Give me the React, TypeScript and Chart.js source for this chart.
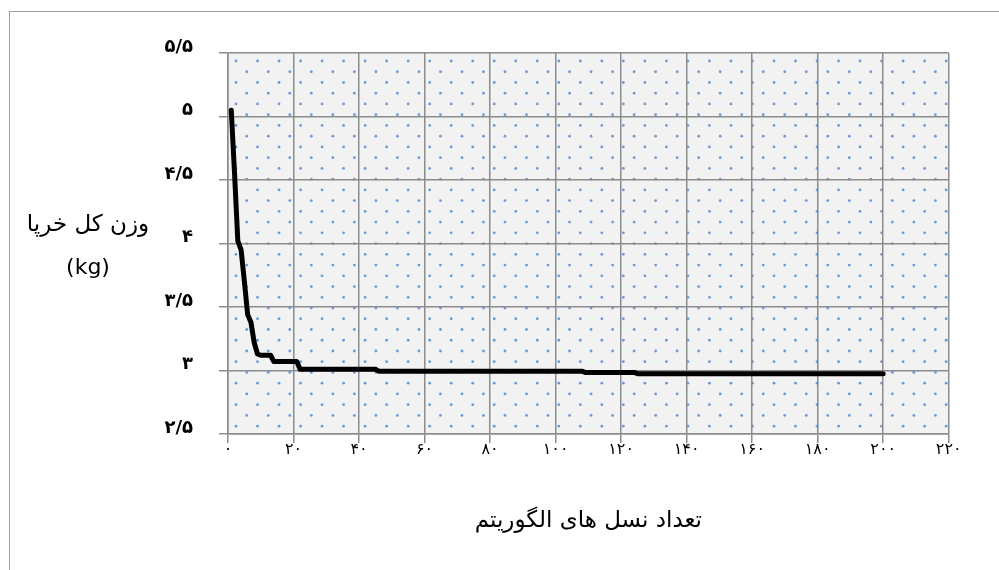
import React, { useEffect, useRef } from 'react';
import { Chart, registerables } from 'chart.js';

Chart.register(...registerables);

// Generation number (x) and total truss weight in kg (y)
const generations = [1, 2, 3, 4, 5, 6, 7, 8, 9, 10, 13, 14, 21, 22, 45, 46, 108, 109, 124, 125, 200];
const totalWeight = [5.05, 4.55, 4.02, 3.95, 3.7, 3.44, 3.38, 3.22, 3.13, 3.12, 3.12, 3.07, 3.07, 3.01, 3.01, 2.995, 2.995, 2.985, 2.985, 2.975, 2.975];

const xTickValues = [0, 20, 40, 60, 80, 100, 120, 140, 160, 180, 200, 220];
const xTickLabels = ['۰', '۲۰', '۴۰', '۶۰', '۸۰', '۱۰۰', '۱۲۰', '۱۴۰', '۱۶۰', '۱۸۰', '۲۰۰', '۲۲۰'];
const yTickValues = [2.5, 3, 3.5, 4, 4.5, 5, 5.5];
const yTickLabels = ['۲/۵', '۳', '۳/۵', '۴', '۴/۵', '۵', '۵/۵'];

const xTitle = 'تعداد نسل های الگوریتم';
const yTitleLines = ['وزن کل خرپا', '(kg)'];

const FONT = "'DejaVu Sans', 'Noto Sans', sans-serif";

const decorPlugin = {
  id: 'decor',
  beforeDraw(chart: any) {
    const { ctx, chartArea: a } = chart;
    ctx.save();
    ctx.fillStyle = '#f2f2f2';
    ctx.fillRect(a.left, a.top, a.right - a.left, a.bottom - a.top);
    ctx.fillStyle = '#6b9ad6';
    const dx = 21.52;
    const dy = 10.74;
    let row = 0;
    for (let y = a.top + 8; y < a.bottom; y += dy, row++) {
      for (let x = a.left + 8 + (row % 2 ? dx / 2 : 0); x < a.right; x += dx) {
        ctx.beginPath();
        ctx.arc(x, y, 1.4, 0, Math.PI * 2);
        ctx.fill();
      }
    }
    ctx.restore();
  },
  afterDraw(chart: any) {
    const { ctx, chartArea: a } = chart;
    ctx.save();
    ctx.fillStyle = '#000';
    ctx.textAlign = 'center';
    ctx.textBaseline = 'middle';
    ctx.font = `23px ${FONT}`;
    ctx.fillText(xTitle, (a.left + a.right) / 2, 521);
    ctx.fillText(yTitleLines[0], 88, 225);
    ctx.font = `22px ${FONT}`;
    ctx.fillText(yTitleLines[1], 88, 268);
    ctx.restore();
  },
};

export default function App() {
  const ref = useRef<HTMLCanvasElement>(null);
  useEffect(() => {
    if (!ref.current) return;
    const chart = new Chart(ref.current, {
      type: 'line',
      data: {
        datasets: [
          {
            data: generations.map((g, i) => ({ x: g, y: totalWeight[i] })),
            borderColor: '#000',
            borderWidth: 5,
            pointRadius: 0,
            tension: 0,
            borderJoinStyle: 'round',
            borderCapStyle: 'round',
            fill: false,
          },
        ],
      },
      options: {
        responsive: false,
        animation: false,
        layout: { padding: { top: 53, right: 50.3, left: 0, bottom: 0 } },
        plugins: { legend: { display: false }, tooltip: { enabled: false } },
        scales: {
          x: {
            type: 'linear',
            min: 0,
            max: 220,
            afterBuildTicks: (s: any) => {
              s.ticks = xTickValues.map((v) => ({ value: v }));
            },
            afterFit: (s: any) => {
              s.height = 136;
            },
            ticks: {
              callback: (v: any) => xTickLabels[xTickValues.indexOf(Number(v))] ?? '',
              font: { family: FONT, size: 16 },
              color: '#000',
              padding: -3,
              maxRotation: 0,
            },
            grid: { color: '#8c8c8c', lineWidth: 1.5, tickLength: 9, drawTicks: true },
            border: { color: '#8c8c8c', width: 1.5 },
          },
          y: {
            type: 'linear',
            min: 2.5,
            max: 5.5,
            afterBuildTicks: (s: any) => {
              s.ticks = yTickValues.map((v) => ({ value: v }));
            },
            afterFit: (s: any) => {
              s.width = 228;
            },
            ticks: {
              callback: (v: any) => yTickLabels[yTickValues.indexOf(Number(v))] ?? '',
              font: { family: FONT, size: 18, weight: 'bold' },
              color: '#000',
              padding: 26,
              labelOffset: -6,
            },
            grid: { color: '#8c8c8c', lineWidth: 1.5, tickLength: 9, drawTicks: true },
            border: { color: '#8c8c8c', width: 1.5 },
          },
        },
      },
      plugins: [decorPlugin],
    });
    return () => chart.destroy();
  }, []);

  return (
    <div style={{ position: 'fixed', left: 0, top: 0, width: 999, height: 570, overflow: 'hidden', background: '#fff' }}>
      <div
        style={{
          position: 'absolute',
          left: 9,
          top: 11,
          width: 1200,
          height: 800,
          border: '1px solid #a0a0a0',
        }}
      />
      <canvas ref={ref} width={999} height={570} style={{ position: 'absolute', left: 0, top: 0 }} />
    </div>
  );
}
